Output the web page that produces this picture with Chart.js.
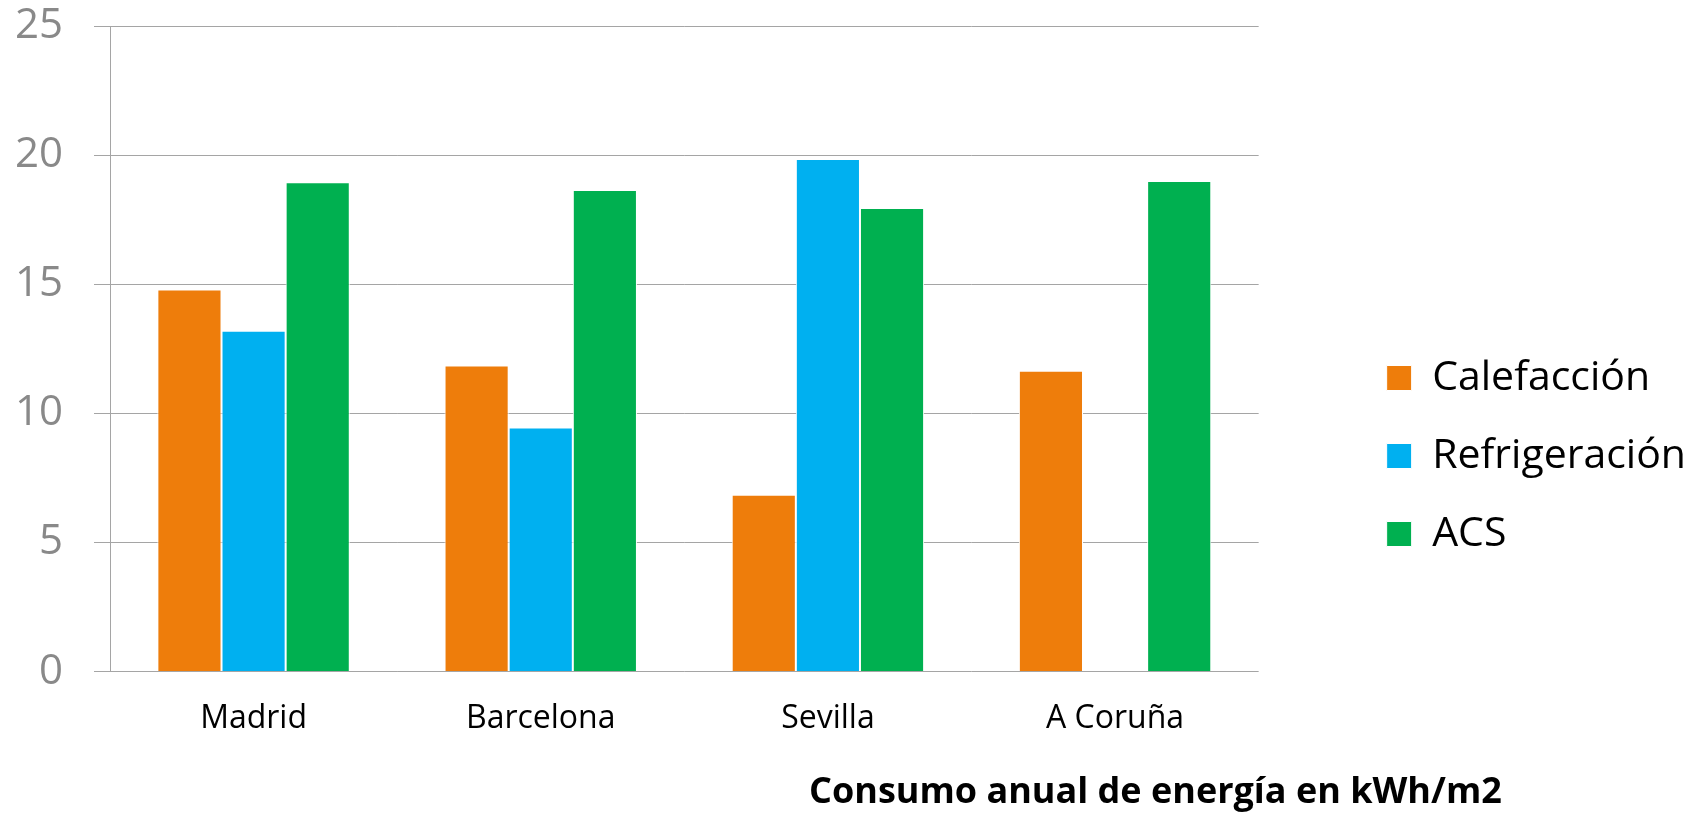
<!DOCTYPE html>
<html>
<head>
<meta charset="utf-8">
<script src="https://cdn.jsdelivr.net/npm/chart.js@4/dist/chart.umd.min.js"></script>
<style>
  html, body { margin: 0; padding: 0; background: #ffffff; }
  #wrap { width: 1696px; height: 815px; }
</style>
</head>
<body>
<div id="wrap"><canvas id="chart" width="1696" height="815"></canvas></div>
<script>
// Annual energy use per city, kWh/m2
const cities = ['Madrid', 'Barcelona', 'Sevilla', 'A Coruña'];
const calefaccion = [14.8, 11.85, 6.85, 11.65];
const refrigeracion = [13.2, 9.45, 19.85, null];
const acs = [18.95, 18.65, 17.95, 19.0];
const yTicks = [0, 5, 10, 15, 20, 25];
const seriesNames = ['Calefacción', 'Refrigeración', 'ACS'];
const caption = 'Consumo anual de energía en kWh/m2';

const FONT = '"Open Sans", Lato, sans-serif';
const GRID = '#a5a5a5';

// Bold caption under the plot, towards the right
const captionPlugin = {
  id: 'caption',
  afterDraw(chart) {
    const ctx = chart.ctx;
    ctx.save();
    ctx.font = 'bold 36px ' + FONT;
    ctx.fillStyle = '#000000';
    ctx.textAlign = 'left';
    ctx.textBaseline = 'alphabetic';
    ctx.fillText(caption, 809, 803);
    ctx.restore();
  }
};

// Push the right-hand legend column down a little
const legendShift = {
  id: 'legendShift',
  afterLayout(chart) {
    const lg = chart.legend;
    if (!lg) return;
    lg.top += 73;
    lg.bottom += 73;
  }
};

new Chart(document.getElementById('chart'), {
  type: 'bar',
  data: {
    labels: cities,
    datasets: [
      { label: seriesNames[0], data: calefaccion, backgroundColor: '#EE7D0B' },
      { label: seriesNames[1], data: refrigeracion, backgroundColor: '#00B0F0' },
      { label: seriesNames[2], data: acs, backgroundColor: '#00B050' }
    ].map(d => Object.assign(d, { borderColor: '#ffffff', borderWidth: 1 }))
  },
  options: {
    responsive: false,
    animation: false,
    devicePixelRatio: 1,
    categoryPercentage: 0.67,
    barPercentage: 1.0,
    layout: { padding: { left: 0, right: 0, top: 0, bottom: 49 } },
    plugins: {
      tooltip: { enabled: false },
      title: { display: false },
      legend: {
        position: 'right',
        align: 'center',
        maxWidth: 420,
        labels: {
          font: { family: FONT, size: 41 },
          color: '#000000',
          boxWidth: 25,
          boxHeight: 25,
          padding: 37
        }
      }
    },
    scales: {
      x: {
        grid: { display: false, drawTicks: false },
        border: { display: false },
        ticks: {
          font: { family: FONT, size: 32 },
          color: '#000000',
          padding: 28,
          maxRotation: 0
        }
      },
      y: {
        min: yTicks[0],
        max: yTicks[yTicks.length - 1],
        ticks: {
          stepSize: yTicks[1] - yTicks[0],
          font: { family: FONT, size: 42 },
          color: '#898989',
          padding: 31
        },
        grid: { color: GRID, lineWidth: 1, tickLength: 16, drawTicks: true },
        border: { display: true, color: GRID, width: 1 },
        afterFit(scale) {
          scale.width = 110;
          scale.paddingTop = 26;
          scale.paddingBottom = 26;
        }
      },
      spacer: {
        position: 'right',
        display: true,
        grid: { display: false, drawTicks: false },
        border: { display: false },
        ticks: { display: false },
        afterFit(scale) { scale.width = 91; }
      }
    }
  },
  plugins: [captionPlugin, legendShift]
});
</script>
</body>
</html>
